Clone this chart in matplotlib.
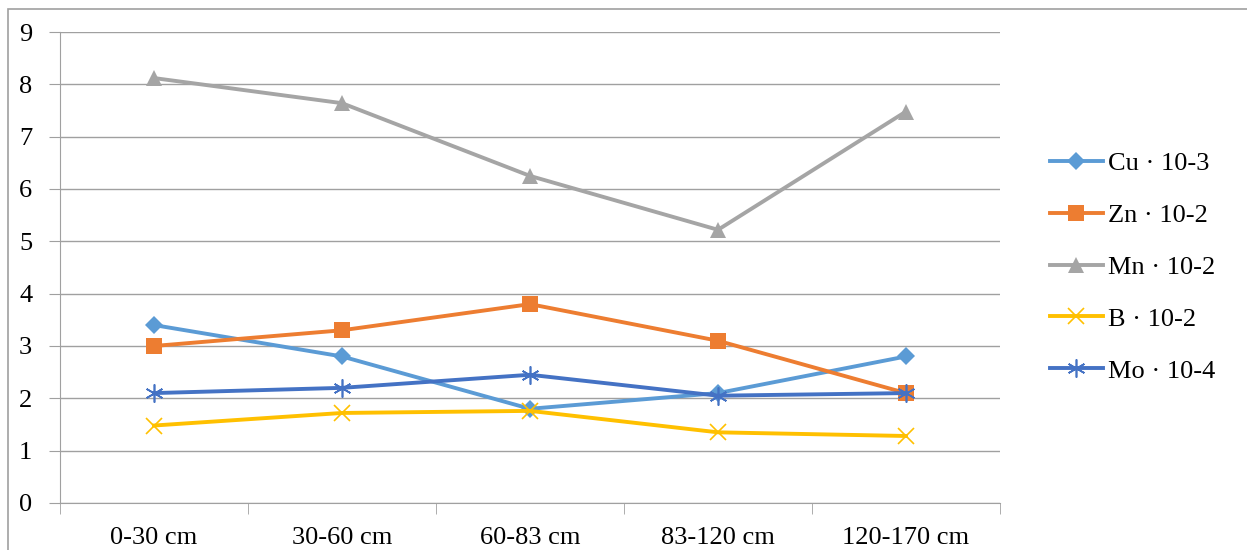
import matplotlib.pyplot as plt
from matplotlib.patches import Rectangle

plt.rcParams["font.family"] = ["Liberation Serif", "DejaVu Serif"]

depths = ["0-30 cm", "30-60 cm", "60-83 cm", "83-120 cm", "120-170 cm"]

cu = [3.4, 2.8, 1.8, 2.1, 2.8]
zn = [3.0, 3.3, 3.8, 3.1, 2.1]
mn = [8.12, 7.64, 6.25, 5.22, 7.48]
b = [1.48, 1.72, 1.76, 1.35, 1.28]
mo = [2.1, 2.2, 2.45, 2.05, 2.1]

labels = ["Cu · 10-3", "Zn · 10-2", "Mn · 10-2", "B · 10-2", "Mo · 10-4"]
colors = ["#5B9BD5", "#ED7D31", "#A5A5A5", "#FFC000", "#4472C4"]
markers = ["D", "s", "^", "x", (6, 2, 0)]
sizes = [9, 11, 11, 12, 13]

fig = plt.figure(figsize=(12.47, 5.5), dpi=100)
ax = fig.add_axes([0.0481, 0.0855, 0.7538, 0.8563])

x = list(range(len(depths)))
series = [cu, zn, mn, b, mo]
for vals, lab, col, mk, ms in zip(series, labels, colors, markers, sizes):
    ax.plot(x, vals, color=col, lw=2.8, marker=mk, markersize=ms,
            markeredgewidth=1.2 if mk in ("x", (6, 2, 0)) else 0,
            markeredgecolor=col, label=lab)

ax.set_xlim(-0.5, 4.5)
ax.set_ylim(0, 9)
ax.set_yticks(range(10))
ax.set_xticks(x)
ax.set_xticklabels(depths)
ax.set_xticks([i - 0.5 for i in range(6)], minor=True)
ax.tick_params(axis="x", which="major", length=0, pad=17, labelsize=19)
ax.tick_params(axis="x", which="minor", length=8, color="#A0A0A0")
ax.tick_params(axis="y", length=8, color="#A0A0A0", pad=12, labelsize=19)
ax.grid(axis="y", color="#A0A0A0", lw=1)
ax.set_axisbelow(True)
for s in ["top", "right"]:
    ax.spines[s].set_visible(False)
for s in ["left", "bottom"]:
    ax.spines[s].set_color("#A0A0A0")

leg = fig.legend(loc="center left", bbox_to_anchor=(0.823, 0.5145), frameon=False,
                 fontsize=19, handlelength=2.0, handletextpad=0.2, labelspacing=1.08)

# outer chart frame (cut off on right and bottom)
fig.patches.append(Rectangle((8 / 1247, -0.05), 1.1, 1 - 9 / 550 + 0.05,
                             transform=fig.transFigure, fill=False,
                             edgecolor="#A0A0A0", lw=1.2))

# clipped title remnant at the very top
fig.text(0.084, 1.0 + 6 / 550, "(g  ·  1000  )", fontsize=19, va="baseline", ha="left")

fig.savefig("out.png", dpi=100)
